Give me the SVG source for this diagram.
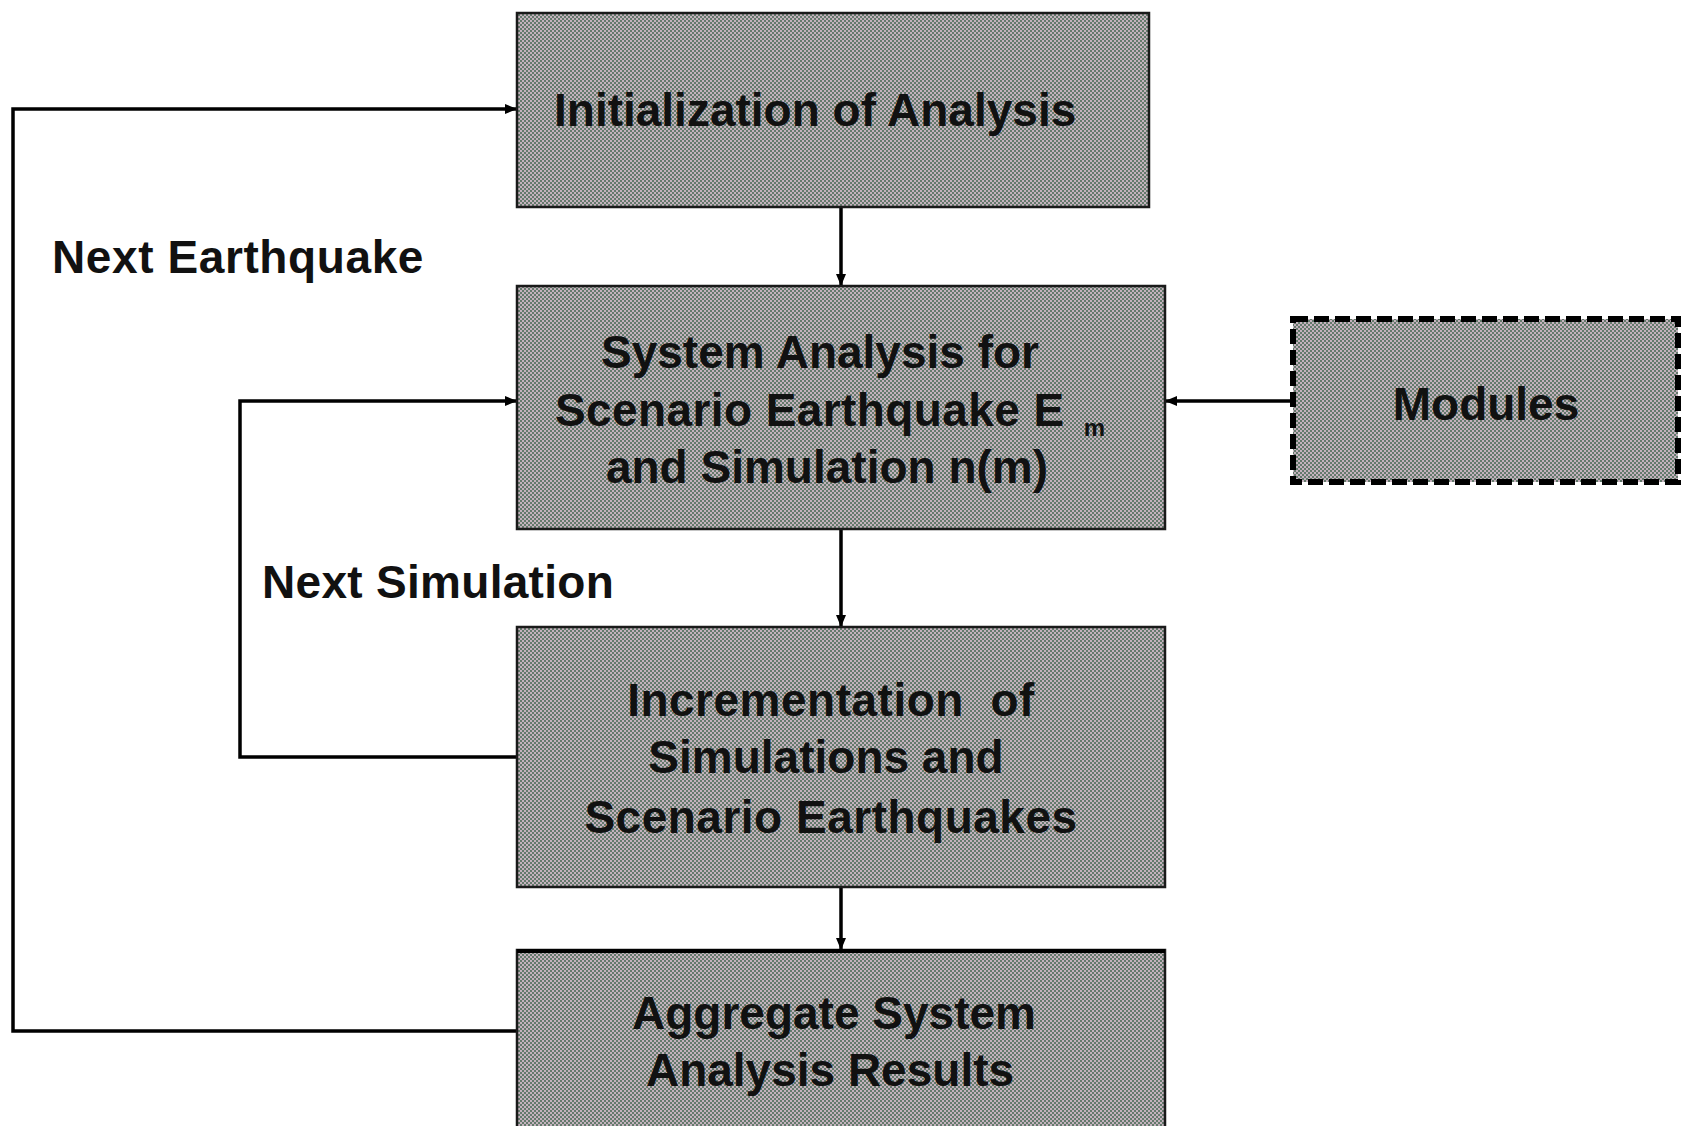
<svg xmlns="http://www.w3.org/2000/svg" width="1681" height="1126" viewBox="0 0 1681 1126">
  <style>
    .box { fill: url(#dither); stroke: #1a1a1a; stroke-width: 2.5; }
    .dash { fill: url(#dither); stroke: #000; stroke-width: 6; stroke-dasharray: 15 6; }
    .lbl { font-family: "Liberation Sans", Arial, sans-serif; font-weight: bold; font-size: 46px; fill: #111; }
    .c { text-anchor: middle; }
    .conn { fill: none; stroke: #000; stroke-width: 3.5; }
  </style>
  <defs>
    <pattern id="dither" width="4" height="4" patternUnits="userSpaceOnUse">
      <rect width="4" height="4" fill="#c4b2bd"/>
      <rect x="0" y="0" width="2" height="2" fill="#647a6c"/>
      <rect x="2" y="2" width="2" height="2" fill="#647a6c"/>
    </pattern>
    <marker id="arr" viewBox="0 0 12 10" refX="12" refY="5" markerWidth="12" markerHeight="10" markerUnits="userSpaceOnUse" orient="auto">
      <path d="M0,0 L12,5 L0,10 Z" fill="#000"/>
    </marker>
  </defs>

  <g id="connectors">
    <path class="conn" d="M841,207 L841,286" marker-end="url(#arr)"/>
    <path class="conn" d="M841,529 L841,627" marker-end="url(#arr)"/>
    <path class="conn" d="M841,887 L841,950" marker-end="url(#arr)"/>
    <path class="conn" d="M517,1031 L13,1031 L13,109 L517,109" marker-end="url(#arr)"/>
    <path class="conn" d="M517,757 L240,757 L240,401 L517,401" marker-end="url(#arr)"/>
    <path class="conn" d="M1293,401 L1165,401" marker-end="url(#arr)"/>
    <text class="lbl" x="52" y="273" letter-spacing="0.6">Next Earthquake</text>
    <text class="lbl" x="262" y="598" letter-spacing="0.3">Next Simulation</text>
  </g>

  <g id="init">
    <rect class="box" x="517" y="13" width="632" height="194"/>
    <text class="lbl" x="554" y="126">Initialization of Analysis</text>
  </g>

  <g id="system">
    <rect class="box" x="517" y="286" width="648" height="243"/>
    <text class="lbl c" x="820" y="368">System Analysis for</text>
    <text class="lbl" x="555" y="426" letter-spacing="0.4">Scenario Earthquake E <tspan font-size="24" dx="6" dy="10">m</tspan></text>
    <text class="lbl c" x="827" y="483">and Simulation n(m)</text>
  </g>

  <g id="modules">
    <rect class="dash" x="1293" y="319" width="385" height="163"/>
    <text class="lbl c" x="1486" y="420">Modules</text>
  </g>

  <g id="increment">
    <rect class="box" x="517" y="627" width="648" height="260"/>
    <text class="lbl c" x="831" y="716" letter-spacing="0.5" xml:space="preserve">Incrementation  of</text>
    <text class="lbl c" x="826" y="773">Simulations and</text>
    <text class="lbl c" x="831" y="833" letter-spacing="0.5">Scenario Earthquakes</text>
  </g>

  <g id="aggregate">
    <rect class="box" x="517" y="950" width="648" height="200"/>
    <line x1="517" y1="951" x2="1165" y2="951" stroke="#000" stroke-width="4"/>
    <text class="lbl c" x="834" y="1029">Aggregate System</text>
    <text class="lbl c" x="830" y="1086">Analysis Results</text>
  </g>
</svg>
